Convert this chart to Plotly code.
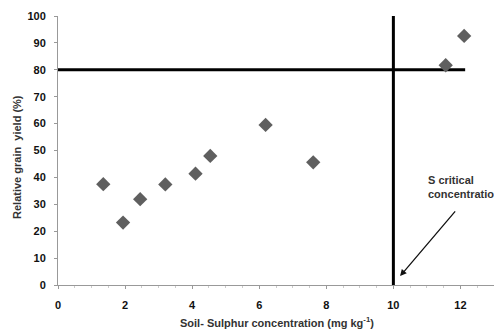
import plotly.graph_objects as go

soil_s = [1.35, 1.94, 2.45, 3.2, 4.1, 4.54, 6.19, 7.61, 11.56, 12.11]
rel_yield = [37.5, 23.2, 31.9, 37.4, 41.4, 48.0, 59.5, 45.6, 81.7, 92.6]
critical_s = 10
critical_yield = 80
hline_end = 12.14
x_ticks = [0, 2, 4, 6, 8, 10, 12]
y_ticks = [0, 10, 20, 30, 40, 50, 60, 70, 80, 90, 100]

font = "Liberation Sans, Arial, sans-serif"

fig = go.Figure()
fig.add_trace(go.Scatter(x=[0, hline_end], y=[critical_yield, critical_yield], mode="lines",
                         line=dict(color="black", width=3), hoverinfo="skip", cliponaxis=False))
fig.add_trace(go.Scatter(x=[critical_s, critical_s], y=[0, 100], mode="lines",
                         line=dict(color="black", width=3), hoverinfo="skip", cliponaxis=False))
fig.add_trace(go.Scatter(x=soil_s, y=rel_yield, mode="markers",
                         marker=dict(symbol="diamond", size=11, color="#5f5f5f"), cliponaxis=False))

fig.add_annotation(x=10.2, y=3.3, ax=11.88, ay=27.9, xref="x", yref="y", axref="x", ayref="y",
                   showarrow=True, arrowhead=2, arrowsize=1, arrowwidth=1.3, arrowcolor="#111", text="")
fig.add_annotation(x=10.97, y=36.4, xref="x", yref="y", text="<b>S critical<br>concentration</b>",
                   showarrow=False, xanchor="left", yanchor="middle", align="left",
                   font=dict(family=font, size=11, color="#333"))
fig.add_annotation(x=-0.094, y=0.476, xref="paper", yref="paper", textangle=-90,
                   text="<b>Relative grain  yield (%)</b>", showarrow=False,
                   xanchor="center", yanchor="middle", font=dict(family=font, size=11, color="#333"))
fig.add_annotation(x=0.502, y=-0.1375, xref="paper", yref="paper",
                   text="<b>Soil- Sulphur concentration (mg kg<sup>-1</sup>)</b>", showarrow=False,
                   xanchor="center", yanchor="middle", font=dict(family=font, size=11, color="#333"))

fig.update_layout(
    width=494, height=329, margin=dict(l=58, r=0, t=16, b=44),
    plot_bgcolor="white", paper_bgcolor="white", showlegend=False,
    font=dict(family=font, color="#222"),
)
fig.update_xaxes(range=[0, 13], tickvals=x_ticks, showgrid=False, zeroline=False, automargin=False,
                 showline=True, linecolor="#999", linewidth=1, ticks="outside", ticklen=3,
                 tickcolor="#999", tickfont=dict(size=11, weight="bold", color="#111"),
                 ticklabelstandoff=7,
                 minor=dict(dtick=0.5, ticks="outside", ticklen=2, tickcolor="#ccc"))
fig.update_yaxes(range=[0, 100], tickvals=y_ticks, showgrid=False, zeroline=False, automargin=False,
                 showline=True, linecolor="#999", linewidth=1, ticks="outside", ticklen=3,
                 tickcolor="#999", tickfont=dict(size=11, weight="bold", color="#111"),
                 ticklabelstandoff=6)

fig.write_html("out.html", config={"displayModeBar": False},
               post_script="document.body.style.margin='0';")
